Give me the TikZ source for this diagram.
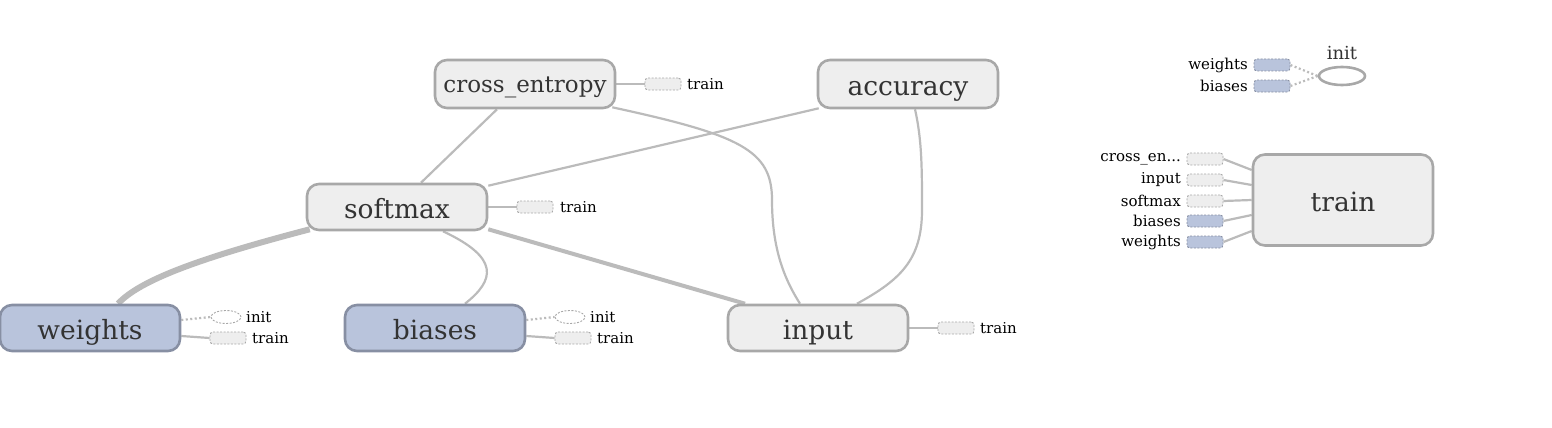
\documentclass[tikz,border=0pt]{standalone}
\usepackage{fontspec}
\setmainfont{DejaVu Serif}
\usetikzlibrary{backgrounds,shapes.geometric}
\definecolor{boxfill}{HTML}{EEEEEE}
\definecolor{boxline}{HTML}{A8A8A8}
\definecolor{bluefill}{HTML}{B9C4DC}
\definecolor{blueline}{HTML}{878FA3}
\definecolor{edgec}{HTML}{BBBBBB}
\definecolor{txt}{HTML}{333333}
\tikzset{
  opbox/.style={draw=boxline, fill=boxfill, line width=2.6pt, rounded corners=12pt,
    minimum width=180pt, minimum height=46pt, inner sep=0pt, text=txt,
    font=\fontsize{26.5}{28}\selectfont, text height=22pt, text depth=0pt},
  varbox/.style={opbox, draw=blueline, fill=bluefill},
  smallbox/.style={draw=boxline, fill=boxfill, dash pattern=on 2pt off 1.5pt, line width=0.9pt,
    rounded corners=3pt, minimum width=36pt, minimum height=12pt, inner sep=0pt},
  smallblue/.style={smallbox, draw=blueline, fill=bluefill},
  smallell/.style={draw=boxline, fill=white, dash pattern=on 2pt off 1.5pt, line width=0.9pt,
    ellipse, minimum width=30pt, minimum height=13pt, inner sep=0pt},
  lbl/.style={font=\fontsize{15}{16}\selectfont, text=black, inner sep=0pt},
  edge/.style={draw=edgec, line width=2.2pt},
  dotedge/.style={draw=edgec, line width=2.2pt, dash pattern=on 2pt off 2.5pt},
}
\begin{document}
\begin{tikzpicture}[x=1pt,y=-1pt]
\useasboundingbox (0,0) rectangle (1552,428);
% main nodes
\node[opbox, minimum height=48pt, font=\fontsize{23}{25}\selectfont, text height=17pt] (ce) at (525,84) {cross\_entropy};
\node[opbox, minimum height=48pt] (acc) at (908,84) {accuracy};
\node[opbox] (sm) at (397,207) {softmax};
\node[varbox] (w) at (90,328) {weights};
\node[varbox] (b) at (435,328) {biases};
\node[opbox] (in) at (818,328) {input};
\node[opbox, minimum height=91pt] (tr) at (1343,200) {train};
\node[draw=boxline, line width=2.6pt, ellipse, minimum width=46pt, minimum height=18pt, inner sep=0pt] (ini) at (1342,76) {};
\node[font=\fontsize{18}{19}\selectfont, text=txt, inner sep=0pt] (inil) at (1342,53) {init};
% small boxes and labels
\node[smallbox] (cet) at (663,84) {};
\node[lbl, anchor=west] (cetl) at (687,84) {train};
\node[smallbox] (smt) at (535,207) {};
\node[lbl, anchor=west] (smtl) at (560,207) {train};
\node[smallell] (wi) at (226,317) {};
\node[lbl, anchor=west] (wil) at (246,317) {init};
\node[smallbox] (wt) at (228,338) {};
\node[lbl, anchor=west] (wtl) at (252,338) {train};
\node[smallell] (bi) at (570,317) {};
\node[lbl, anchor=west] (bil) at (590,317) {init};
\node[smallbox] (bt) at (573,338) {};
\node[lbl, anchor=west] (btl) at (597,338) {train};
\node[smallbox] (int) at (956,328) {};
\node[lbl, anchor=west] (intl) at (980,328) {train};
% train inputs
\node[smallbox] (t1) at (1205,159) {};
\node[smallbox] (t2) at (1205,180) {};
\node[smallbox] (t3) at (1205,201) {};
\node[smallblue] (t4) at (1205,221) {};
\node[smallblue] (t5) at (1205,242) {};
\node[lbl, anchor=east] (t1l) at (1181,159) {cross\_en...};
\node[lbl, anchor=east] (t2l) at (1181,180) {input};
\node[lbl, anchor=east] (t3l) at (1181,201) {softmax};
\node[lbl, anchor=east] (t4l) at (1181,221) {biases};
\node[lbl, anchor=east] (t5l) at (1181,242) {weights};
% init inputs
\node[smallblue] (i1) at (1272,65) {};
\node[smallblue] (i2) at (1272,86) {};
\node[lbl, anchor=east] (i1l) at (1248,65) {weights};
\node[lbl, anchor=east] (i2l) at (1248,86) {biases};
\begin{scope}[on background layer]
  \draw[edge] ([xshift=-28pt]ce.south) -- ([xshift=24pt]sm.north);
  \draw[edge] ([xshift=-4pt,yshift=2pt]ce.south east) .. controls (740,135) and (772,150) .. (772,200)
      .. controls (772,250) and (785,280) .. ([xshift=-18pt]in.north);
  \draw[edge] ([xshift=2pt,yshift=1pt]acc.south west) -- ([yshift=-3pt]sm.north east);
  \draw[edge] ([xshift=7pt]acc.south) .. controls (922,140) and (922,170) .. (922,210)
      .. controls (922,260) and (900,280) .. ([xshift=39pt]in.north);
  \draw[edge, line width=6pt] ([xshift=4pt,yshift=2pt]sm.south west) .. controls (200,258) and (140,280) .. ([xshift=28pt]w.north);
  \draw[edge] ([xshift=46pt]sm.south) .. controls (500,258) and (495,280) .. ([xshift=30pt]b.north);
  \draw[edge, line width=4pt] ([yshift=2pt]sm.south east) -- ([xshift=-73pt]in.north);
  \draw[edge] (ce.east) -- (cet.west);
  \draw[edge] (sm.east) -- (smt.west);
  \draw[edge] (in.east) -- (int.west);
  \draw[dotedge] ([yshift=8pt]w.east) -- (wi.west);
  \draw[edge] ([yshift=-8pt]w.east) -- (wt.west);
  \draw[dotedge] ([yshift=8pt]b.east) -- (bi.west);
  \draw[edge] ([yshift=-8pt]b.east) -- (bt.west);
  \draw[edge] (t1.east) -- ([yshift=30pt]tr.west);
  \draw[edge] (t2.east) -- ([yshift=15pt]tr.west);
  \draw[edge] (t3.east) -- (tr.west);
  \draw[edge] (t4.east) -- ([yshift=-15pt]tr.west);
  \draw[edge] (t5.east) -- ([yshift=-31pt]tr.west);
  \draw[dotedge] (i1.east) -- (ini.west);
  \draw[dotedge] (i2.east) -- (ini.west);
\end{scope}
\end{tikzpicture}
\end{document}
